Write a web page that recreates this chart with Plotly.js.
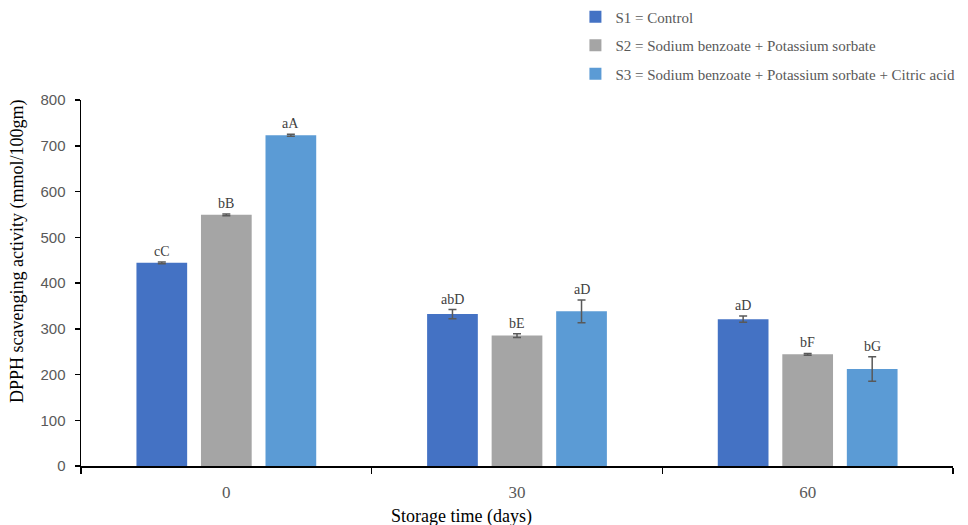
<!DOCTYPE html>
<html>
<head>
<meta charset="utf-8">
<script src="https://cdn.plot.ly/plotly-3.0.1.min.js"></script>
<style>html,body{margin:0;padding:0;background:#fff;}#chart{width:968px;height:525px;}</style>
</head>
<body>
<div id="chart"></div>
<script>
const days = ["0", "30", "60"];
const seriesNames = ["S1 = Control", "S2 = Sodium benzoate + Potassium sorbate", "S3 = Sodium benzoate + Potassium sorbate + Citric acid"];
const s1Values = [444, 332, 321];
const s2Values = [549, 285, 244];
const s3Values = [723, 338, 212];
const s1Errors = [2, 10, 7];
const s2Errors = [2, 4, 2];
const s3Errors = [2, 25, 27];
const s1Letters = ["cC", "abD", "aD"];
const s2Letters = ["bB", "bE", "bF"];
const s3Letters = ["aA", "aD", "bG"];
const xTitle = "Storage time (days)";
const yTitle = "DPPH scavenging activity (mmol/100gm)";

const colors = ["#4472C4", "#A5A5A5", "#5B9BD5"];
const values = [s1Values, s2Values, s3Values];
const errors = [s1Errors, s2Errors, s3Errors];
const letters = [s1Letters, s2Letters, s3Letters];
const serif = "Liberation Serif, Times New Roman, serif";

const traces = values.map((v, i) => ({
  type: "bar",
  name: seriesNames[i],
  x: days,
  y: v,
  marker: {color: colors[i]},
  error_y: {type: "data", array: errors[i], visible: true, color: "#595959", thickness: 1.5, width: 4},
  legendgroup: "g" + i,
  hoverinfo: "y"
}));

const annotations = [];
values.forEach((v, i) => {
  v.forEach((val, j) => {
    annotations.push({
      x: j, y: val + errors[i][j], xref: "x", yref: "y",
      xshift: (i - 1) * 64.5,
      text: letters[i][j], showarrow: false, yanchor: "bottom", yshift: 1,
      font: {family: serif, size: 14, color: "#404040"}
    });
  });
});
annotations.push({
  xref: "paper", yref: "paper", x: -0.0722, y: 0.585, xanchor: "center", yanchor: "middle",
  textangle: -90, showarrow: false, text: yTitle,
  font: {family: serif, size: 18, color: "#000"}
});
annotations.push({
  xref: "paper", yref: "paper", x: 0.436, y: -0.139, xanchor: "center", yanchor: "middle",
  showarrow: false, text: xTitle,
  font: {family: serif, size: 18, color: "#000"}
});

const layout = {
  width: 968, height: 525,
  margin: {l: 81, r: 15, t: 100, b: 59, autoexpand: false},
  paper_bgcolor: "#fff", plot_bgcolor: "#fff",
  barmode: "group", bargap: 0.334, bargroupgap: 0.214,
  showlegend: true,
  legend: {
    x: 0.567, y: 1.272, xanchor: "left", yanchor: "top",
    traceorder: "grouped", tracegroupgap: 6,
    font: {family: serif, size: 15, color: "#595959"},
    itemwidth: 30, bgcolor: "rgba(0,0,0,0)"
  },
  xaxis: {
    type: "category", range: [-0.5, 2.5],
    showline: true, linecolor: "#000", linewidth: 1.5,
    ticks: "outside", tickson: "boundaries", ticklen: 6, tickcolor: "#000", tickwidth: 1.5,
    ticklabelstandoff: 10,
    showgrid: false, zeroline: false,
    tickfont: {family: serif, size: 17, color: "#595959"}
  },
  yaxis: {
    range: [0, 800], dtick: 100,
    showline: true, linecolor: "#000", linewidth: 1.5,
    ticks: "outside", ticklen: 5, tickcolor: "#000", tickwidth: 1.5,
    ticklabelstandoff: 6,
    showgrid: false, zeroline: false,
    tickfont: {family: "Liberation Sans, Arial, sans-serif", size: 15, color: "#595959"}
  },
  annotations: annotations
};

Plotly.newPlot("chart", traces, layout, {displayModeBar: false, staticPlot: true});
</script>
</body>
</html>
